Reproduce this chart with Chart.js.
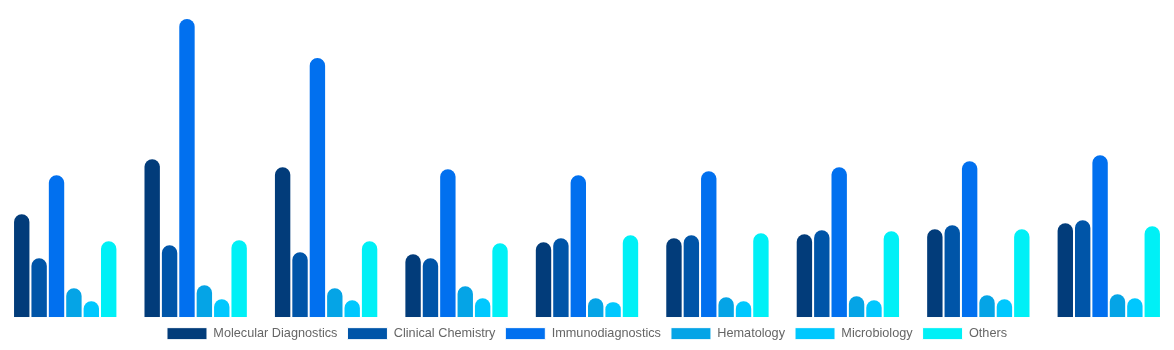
<!DOCTYPE html>
<html>
<head>
<meta charset="utf-8">
<script src="https://cdn.jsdelivr.net/npm/chart.js@4/dist/chart.umd.min.js"></script>
<style>
  html, body { margin: 0; padding: 0; background: #fff; }
  #wrap { width: 1174px; height: 350px; }
</style>
</head>
<body>
<div id="wrap"><canvas id="Charts"></canvas></div>
<script>
const labels = ['G1', 'G2', 'G3', 'G4', 'G5', 'G6', 'G7', 'G8', 'G9']
const molecular = [104, 159, 151, 64, 76, 80, 84, 89, 95]
const clinical = [60, 73, 66, 60, 80, 83, 88, 93, 98]
const immuno = [143, 299, 260, 149, 143, 147, 151, 157, 163]
const hematology = [30, 33, 30, 32, 20, 21, 22, 23, 24]
const micro = [17, 19, 18, 20, 16, 17, 18, 19, 20]
const others = [77, 78, 77, 75, 83, 85, 87, 89, 92]

function ds(label, data, color) {
    return {
        label: label,
        data: data,
        backgroundColor: color,
        borderColor: '#ffffff',
        borderWidth: 1,
        borderRadius: 20,
        borderSkipped: 'start',
        barPercentage: 1,
        categoryPercentage: 0.8
    }
}

const ctx = document.getElementById('Charts')

new Chart(ctx, {
    type: 'bar',
    data: {
        labels: labels,
        datasets: [
            ds('Molecular Diagnostics', molecular, '#023c7a'),
            ds('Clinical Chemistry', clinical, '#0055a8'),
            ds('Immunodiagnostics', immuno, '#0170ef'),
            ds('Hematology', hematology, '#05a4e6'),
            ds('Microbiology', micro, '#00c8fe'),
            ds('Others', others, '#00f0f6')
        ]
    },
    options: {
        responsive: true,
        maintainAspectRatio: false,
        animation: false,
        layout: { padding: { top: 17, left: 0, right: 0, bottom: 0 } },
        scales: {
            x: { display: false },
            y: { display: false, min: 0, max: 300 }
        },
        plugins: {
            tooltip: { enabled: false },
            legend: {
                position: 'bottom',
                labels: {
                    boxWidth: 40,
                    boxHeight: 12,
                    color: '#666',
                    font: { family: 'Liberation Sans, Arial, sans-serif', size: 12.7 }
                }
            }
        }
    }
})
</script>
</body>
</html>
